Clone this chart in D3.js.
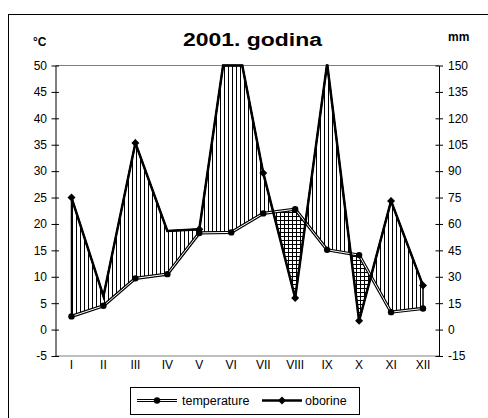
<!DOCTYPE html>
<html>
<head>
<meta charset="utf-8">
<script src="https://cdn.jsdelivr.net/npm/d3@7/dist/d3.min.js"></script>
<style>
  html, body { margin: 0; padding: 0; background: #fff; }
  svg { display: block; }
  text { font-family: "Liberation Sans", Arial, sans-serif; }
</style>
</head>
<body>
<svg id="chart" width="488" height="418"></svg>
<script>
// ---- data ----
const months = ["I","II","III","IV","V","VI","VII","VIII","IX","X","XI","XII"];
const temperature = [2.5, 4.5, 9.7, 10.5, 18.3, 18.4, 22.0, 22.8, 15.1, 14.1, 3.3, 4.0];   // °C
const precipitation = [75, 19, 106, 56, 57, 182, 89, 18, 151, 5, 73, 25];               // mm
const precipMarkerShown = [true, false, true, false, true, true, true, true, true, true, true, true];
const tempTicks = [-5, 0, 5, 10, 15, 20, 25, 30, 35, 40, 45, 50];
const precTicks = [-15, 0, 15, 30, 45, 60, 75, 90, 105, 120, 135, 150];
const titleText = "2001. godina";
const leftUnit = "°C";
const rightUnit = "mm";
const legendLabels = ["temperature", "oborine"];

// ---- layout ----
const L = 55.5, R = 439, T = 65.5, B = 356;
const svg = d3.select("#chart");

const x = d3.scaleBand().domain(months).range([L, R]);
const xc = m => x(m) + x.bandwidth() / 2;
const yT = d3.scaleLinear().domain([-5, 50]).range([B, T]);
const yP = d3.scaleLinear().domain([-15, 150]).range([B, T]);

// patterns
const defs = svg.append("defs");
const pv = defs.append("pattern").attr("id", "vhatch").attr("patternUnits", "userSpaceOnUse")
  .attr("width", 4).attr("height", 4);
pv.append("rect").attr("width", 4).attr("height", 4).attr("fill", "#fff");
pv.append("line").attr("x1", 0.5).attr("x2", 0.5).attr("y1", 0).attr("y2", 4).attr("stroke", "#000").attr("stroke-width", 1);
const pg = defs.append("pattern").attr("id", "grid").attr("patternUnits", "userSpaceOnUse")
  .attr("width", 4).attr("height", 4);
pg.append("rect").attr("width", 4).attr("height", 4).attr("fill", "#fff");
pg.append("line").attr("x1", 0.5).attr("x2", 0.5).attr("y1", 0).attr("y2", 4).attr("stroke", "#000").attr("stroke-width", 1);
pg.append("line").attr("x1", 0).attr("x2", 4).attr("y1", 0.5).attr("y2", 0.5).attr("stroke", "#000").attr("stroke-width", 1);

// outer frame
svg.append("rect").attr("x", 8.5).attr("y", 14.5).attr("width", 490).attr("height", 420)
  .attr("fill", "#fff").attr("stroke", "#000").attr("stroke-width", 1);

// title & units
svg.append("text").attr("x", 183).attr("y", 46)
  .attr("font-size", 17.5).attr("font-weight", "bold")
  .attr("textLength", 139).attr("lengthAdjust", "spacingAndGlyphs").text(titleText);
svg.append("text").attr("x", 33).attr("y", 46).attr("font-size", 12).attr("font-weight", "bold").text(leftUnit);
svg.append("text").attr("x", 448).attr("y", 40.5).attr("font-size", 12).attr("font-weight", "bold").text(rightUnit);

// plot frame lines (gray top & bottom)
svg.append("line").attr("x1", L).attr("x2", R).attr("y1", T).attr("y2", T).attr("stroke", "#808080").attr("stroke-width", 1.2);
svg.append("line").attr("x1", L).attr("x2", R).attr("y1", B).attr("y2", B).attr("stroke", "#808080").attr("stroke-width", 1.2);

// ---- refined points (crossings & clamp at top) ----
const PMAX = 150;
const pts = [];
for (let i = 0; i < months.length; i++) {
  const t0 = temperature[i], p0 = precipitation[i] / 3;
  pts.push({ x: xc(months[i]), t: t0, p: p0 });
  if (i < months.length - 1) {
    const t1 = temperature[i + 1], p1 = precipitation[i + 1] / 3;
    const fs = [];
    const d0 = p0 - t0, d1 = p1 - t1;
    if (d0 * d1 < 0) fs.push(d0 / (d0 - d1));
    const m = PMAX / 3;
    if ((p0 - m) * (p1 - m) < 0) fs.push((p0 - m) / (p0 - p1));
    fs.sort((a, b) => a - b).forEach(f => {
      pts.push({
        x: xc(months[i]) + f * (xc(months[i + 1]) - xc(months[i])),
        t: t0 + f * (t1 - t0), p: p0 + f * (p1 - p0)
      });
    });
  }
}
pts.forEach(d => { d.pc = Math.min(d.p, PMAX / 3); });

const plotG = svg.append("g");
// humid area (precip above temp) - vertical hatch
plotG.append("path").datum(pts)
  .attr("d", d3.area().x(d => d.x).y0(d => yT(d.t)).y1(d => yT(Math.max(d.pc, d.t))))
  .attr("fill", "url(#vhatch)").attr("stroke", "#000").attr("stroke-width", 1.5);
// arid area (temp above precip) - grid hatch
plotG.append("path").datum(pts)
  .attr("d", d3.area().x(d => d.x).y0(d => yT(d.pc)).y1(d => yT(Math.max(d.pc, d.t))))
  .attr("fill", "url(#grid)").attr("stroke", "#000").attr("stroke-width", 1.5);

// temperature line (double line look)
const tLine = d3.line().x((d, i) => xc(months[i])).y(d => yT(d));
plotG.append("path").datum(temperature).attr("d", tLine).attr("fill", "none")
  .attr("stroke", "#000").attr("stroke-width", 3.2);
plotG.append("path").datum(temperature).attr("d", tLine).attr("fill", "none")
  .attr("stroke", "#fff").attr("stroke-width", 1);

// precipitation line
plotG.append("path").datum(pts)
  .attr("d", d3.line().x(d => d.x).y(d => yT(d.pc)))
  .attr("fill", "none").attr("stroke", "#000").attr("stroke-width", 2.5).attr("stroke-linejoin", "miter");

// markers
plotG.selectAll("circle.t").data(temperature).enter().append("circle")
  .attr("cx", (d, i) => xc(months[i])).attr("cy", d => yT(d)).attr("r", 3.2).attr("fill", "#000");
const diamond = (cx, cy, s) => `M${cx},${cy - s}L${cx + s},${cy}L${cx},${cy + s}L${cx - s},${cy}Z`;
plotG.selectAll("path.p")
  .data(precipitation.map((v, i) => ({ v, m: months[i], show: precipMarkerShown[i] })).filter(d => d.v <= PMAX && d.show))
  .enter().append("path")
  .attr("d", d => diamond(xc(d.m), yP(d.v), 4)).attr("fill", "#000");

// ---- axes ----
const fmt = d => String(d);
const axL = svg.append("g").attr("transform", `translate(${L},0)`)
  .call(d3.axisLeft(yT).tickValues(tempTicks).tickFormat(fmt).tickSizeInner(4).tickSizeOuter(0).tickPadding(4.5));
axL.select(".domain").attr("stroke", "#000");
axL.selectAll(".tick line").attr("x1", 3.5).attr("x2", -4).attr("stroke", "#000");
axL.selectAll(".tick text").attr("font-size", 12).attr("font-family", "Liberation Sans, Arial, sans-serif").attr("fill", "#000");

const axR = svg.append("g").attr("transform", `translate(${R},0)`)
  .call(d3.axisRight(yP).tickValues(precTicks).tickFormat(fmt).tickSizeInner(4).tickSizeOuter(0).tickPadding(5));
axR.select(".domain").attr("stroke", "#000");
axR.selectAll(".tick line").attr("x1", -3.5).attr("x2", 4).attr("stroke", "#000");
axR.selectAll(".tick text").attr("font-size", 12).attr("font-family", "Liberation Sans, Arial, sans-serif").attr("fill", "#000");

const axB = svg.append("g").attr("transform", `translate(0,${B})`)
  .call(d3.axisBottom(x).tickSize(0).tickPadding(4));
axB.select(".domain").remove();
axB.selectAll(".tick text").attr("font-size", 12).attr("font-family", "Liberation Sans, Arial, sans-serif").attr("fill", "#000");

// ---- legend ----
const lg = svg.append("g");
lg.append("rect").attr("x", 130.5).attr("y", 387.5).attr("width", 229).attr("height", 27)
  .attr("fill", "#fff").attr("stroke", "#000").attr("stroke-width", 1);
const ly = 400.5;
lg.append("line").attr("x1", 137).attr("x2", 177).attr("y1", ly).attr("y2", ly).attr("stroke", "#000").attr("stroke-width", 3.2);
lg.append("line").attr("x1", 137).attr("x2", 177).attr("y1", ly).attr("y2", ly).attr("stroke", "#fff").attr("stroke-width", 1);
lg.append("circle").attr("cx", 157).attr("cy", ly).attr("r", 3.2).attr("fill", "#000");
lg.append("text").attr("x", 182).attr("y", ly + 4.3).attr("font-size", 12.5).text(legendLabels[0]);
lg.append("line").attr("x1", 262).attr("x2", 302).attr("y1", ly).attr("y2", ly).attr("stroke", "#000").attr("stroke-width", 2.5);
lg.append("path").attr("d", diamond(282, ly, 4)).attr("fill", "#000");
lg.append("text").attr("x", 305).attr("y", ly + 4.3).attr("font-size", 12.5).text(legendLabels[1]);
</script>
</body>
</html>
